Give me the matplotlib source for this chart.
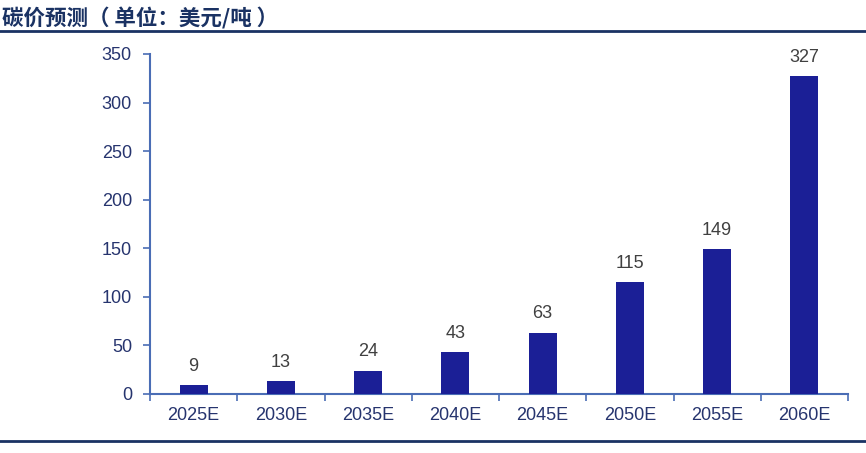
import numpy as np
import matplotlib.pyplot as plt
from matplotlib.lines import Line2D

plt.rcParams['font.family'] = ['Liberation Sans', 'Noto Sans CJK SC', 'DejaVu Sans']

years = ["2025E", "2030E", "2035E", "2040E", "2045E", "2050E", "2055E", "2060E"]
prices = [9, 13, 24, 43, 63, 115, 149, 327]

bar_color = "#1b1f96"
axis_color = "#4a6db5"
tick_color = "#26346e"
title_color = "#1a3263"

fig = plt.figure(figsize=(8.66, 4.53), dpi=100)
ax = fig.add_axes([150 / 866, 1 - 394 / 453, 698 / 866, 340 / 453])

x = np.arange(len(years))
ax.bar(x, prices, width=0.32, color=bar_color, zorder=3)
for xi, v in zip(x, prices):
    ax.text(xi, v + 11, str(v), ha="center", va="bottom", fontsize=13, color="#404040")

ax.set_xlim(-0.5, len(years) - 0.5)
ax.set_ylim(0, 350)
ax.set_yticks(range(0, 351, 50))
ax.set_xticks(x)
ax.set_xticklabels(years)
ax.set_xticks(np.arange(-0.5, len(years), 1), minor=True)
ax.tick_params(axis="x", which="major", length=0, pad=9, labelsize=13, labelcolor=tick_color)
ax.tick_params(axis="x", which="minor", length=5, width=1.2, color=axis_color, direction="out")
ax.tick_params(axis="y", length=5, width=1.2, color=axis_color, pad=8, labelsize=13, labelcolor=tick_color)

for s in ["top", "right"]:
    ax.spines[s].set_visible(False)
for s in ["left", "bottom"]:
    ax.spines[s].set_color(axis_color)
    ax.spines[s].set_linewidth(1.5)

fig.text(2 / 866, 1 - 18 / 453, "碳价预测（ 单位：美元/吨 ）", fontsize=15.5, fontweight="bold",
         color=title_color, ha="left", va="center",
         family=['Noto Sans CJK SC', 'DejaVu Sans'])
fig.add_artist(Line2D([0, 1], [1 - 31 / 453] * 2, color=title_color, lw=2, transform=fig.transFigure))
fig.add_artist(Line2D([0, 1], [1 - 441 / 453] * 2, color=title_color, lw=2, transform=fig.transFigure))

fig.savefig("out.png", dpi=100)
